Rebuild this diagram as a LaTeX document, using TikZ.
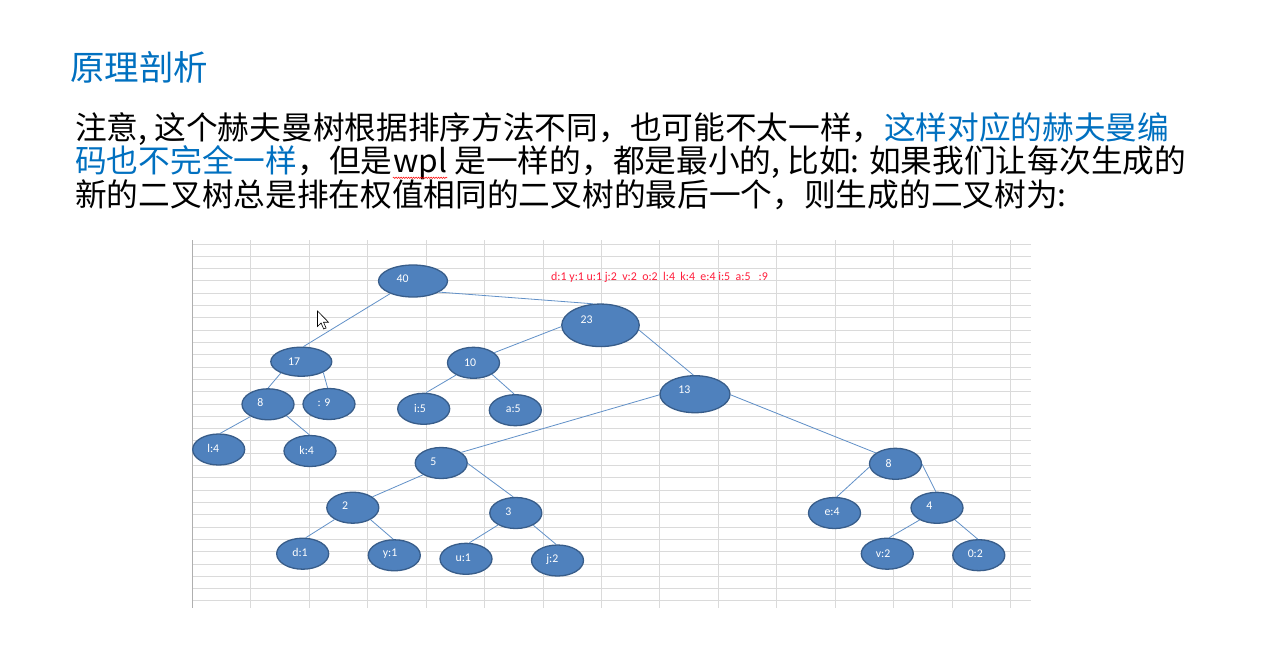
\documentclass[tikz,border=0pt]{standalone}
\usepackage{fontspec}
\setmainfont{Noto Sans CJK SC}
\newfontfamily\calfont{Carlito}
\usetikzlibrary{shapes.geometric,decorations.pathmorphing}
\definecolor{ttlblue}{RGB}{0,112,192}
\definecolor{nfill}{RGB}{79,129,189}
\definecolor{nborder}{RGB}{56,93,138}
\definecolor{edgec}{RGB}{98,145,200}
\definecolor{gridc}{RGB}{218,218,218}
\definecolor{axisc}{RGB}{175,175,175}
\definecolor{redt}{RGB}{255,30,60}
\begin{document}
\begin{tikzpicture}[x=1pt,y=-1pt,
  nd/.style={ellipse, draw=nborder, line width=1.3pt, fill=nfill, inner sep=0pt,
             minimum width=52pt, minimum height=31pt},
  lab/.style={text=white, font=\calfont\fontsize{11.8}{11.8}\selectfont, inner sep=0pt},
  edge/.style={draw=edgec, line width=0.8pt},
  gridline/.style={draw=gridc, line width=1pt},
  body/.style={anchor=base west, inner sep=0pt, font=\fontsize{31.7}{33}\selectfont},
  blue/.style={text=ttlblue}]
\useasboundingbox (0,0) rectangle (1267,659);
\fill[white] (0,0) rectangle (1267,659);
% grid
\foreach \j in {0,...,29} \draw[gridline] (192,{244+12.31*\j}) -- (1031,{244+12.31*\j});
\foreach \i in {1,...,14} \draw[gridline] ({192.3+58.45*\i},240) -- ({192.3+58.45*\i},608);
\draw[draw=axisc, line width=1.2pt] (192.3,240) -- (192.3,608);
% texts
\node[anchor=base west, inner sep=0pt, text=ttlblue, font=\fontsize{34.5}{34.5}\selectfont] (title) at (70,80) {原理剖析};
\node[body] (l1a) at (75,139.5) {注意, 这个赫夫曼树根据排序方法不同，也可能不太一样，};
\node[body, blue] (l1b) at (l1a.base east) {这样对应的赫夫曼编};
\node[body, blue] (l2a) at (75,172.8) {码也不完全一样};
\node[body] (l2b) at (l2a.base east) {，但是};
\node[body] (wpl) at (l2b.base east) {wpl};
\node[body] (l2c) at (wpl.base east) {\ 是一样的，都是最小的, 比如: 如果我们让每次生成的};
\node[body] (l3) at (75,206) {新的二叉树总是排在权值相同的二叉树的最后一个，则生成的二叉树为:};
\draw[red, line width=0.5pt, decorate, decoration={snake, amplitude=0.7pt, segment length=2.5pt}]
  ([yshift=-5pt]wpl.base west) -- ([yshift=-5pt]wpl.base east);
\node[anchor=west, inner sep=0pt, text=redt, font=\calfont\fontsize{11.9}{11.9}\selectfont] (freq) at (551,277)
  {d:1 y:1 u:1 j:2\ \ v:2\ \ o:2\ \ l:4\ \ k:4\ \ e:4 i:5\ \ a:5\ \ \ :9};
% nodes
\node[nd, minimum width=69pt, minimum height=32pt] (n40) at (413,281) {};
\node[nd, minimum width=77.5pt, minimum height=42.5pt] (n23) at (600.5,325.3) {};
\node[nd, minimum width=61pt, minimum height=29pt] (n17) at (301.3,361.7) {};
\node[nd] (n10) at (473.5,362.8) {};
\node[nd] (n8a) at (268,404.3) {};
\node[nd] (n9) at (329,404) {};
\node[nd] (ni5) at (423.7,408.8) {};
\node[nd] (na5) at (515.3,410.2) {};
\node[nd, minimum width=70pt, minimum height=37pt] (n13) at (695,394.2) {};
\node[nd] (nl4) at (218.7,449.5) {};
\node[nd] (nk4) at (310,451) {};
\node[nd] (n5) at (441.2,463) {};
\node[nd] (n2) at (352.8,507.7) {};
\node[nd] (n3) at (515.8,513) {};
\node[nd] (nd1) at (302.7,553.7) {};
\node[nd] (ny1) at (394.3,555.3) {};
\node[nd] (nu1) at (466,558.8) {};
\node[nd] (nj2) at (557.5,560.5) {};
\node[nd] (n8b) at (895.5,463.8) {};
\node[nd] (ne4) at (834.5,513) {};
\node[nd] (n4) at (937,507.8) {};
\node[nd] (nv2) at (887.3,553.7) {};
\node[nd] (no2) at (978.8,555.2) {};
% labels
\node[lab] (t40) at (402.7,278.3) {40};
\node[lab] (t23) at (586.7,320) {23};
\node[lab] (t17) at (294,361.7) {17};
\node[lab] (t10) at (470,362.3) {10};
\node[lab] (t8a) at (260.3,402.3) {8};
\node[lab] (t9) at (324,402.3) {: 9};
\node[lab] (ti5) at (420,408.3) {i:5};
\node[lab] (ta5) at (513.3,409) {a:5};
\node[lab] (t13) at (684.3,390) {13};
\node[lab] (tl4) at (213.3,448.3) {l:4};
\node[lab] (tk4) at (306.7,450) {k:4};
\node[lab] (t5) at (433.3,461.7) {5};
\node[lab] (t2) at (345,506) {2};
\node[lab] (t3) at (508.3,511.7) {3};
\node[lab] (td1) at (300,552.3) {d:1};
\node[lab] (ty1) at (390,554) {y:1};
\node[lab] (tu1) at (463.3,557.3) {u:1};
\node[lab] (tj2) at (552.3,559.3) {j:2};
\node[lab] (t8b) at (888.7,463.3) {8};
\node[lab] (te4) at (832,512) {e:4};
\node[lab] (t4) at (929.3,506) {4};
\node[lab] (tv2) at (883,553.3) {v:2};
\node[lab] (to2) at (975.3,554) {0:2};
% edges
\draw[edge] (n40.209) -- (n17.82);
\draw[edge] (n40.-23) -- (n23.109);
\draw[edge] (n23.182) -- (n10.26);
\draw[edge] (n23.-7) -- (n13.95);
\draw[edge] (n17.209) -- (n8a.90);
\draw[edge] (n17.-26) -- (n9.95);
\draw[edge] (n10.215) -- (ni5.82);
\draw[edge] (n10.-32) -- (na5.94);
\draw[edge] (n8a.215) -- (nl4.85);
\draw[edge] (n8a.-32) -- (nk4.92);
\draw[edge] (n13.181) -- (n5.28);
\draw[edge] (n13.-1) -- (n8b.151);
\draw[edge] (n5.213) -- (n2.29);
\draw[edge] (n5.-1) -- (n3.99);
\draw[edge] (n2.213) -- (nd1.79);
\draw[edge] (n2.-34) -- (ny1.94);
\draw[edge] (n3.214) -- (nu1.78);
\draw[edge] (n3.-35) -- (nj2.95);
\draw[edge] (n8b.187) -- (ne4.82);
\draw[edge] (n8b.-1) -- (n4.94);
\draw[edge] (n4.215) -- (nv2.83);
\draw[edge] (n4.-34) -- (no2.94);
% mouse cursor
\draw[black, fill=white, line width=0.6pt, line join=miter] (317.5,311) -- ++(0,15.5) -- ++(3.6,-3.5) -- ++(2.6,6) -- ++(2.4,-1) -- ++(-2.6,-5.8) -- ++(5,0) -- cycle;
\end{tikzpicture}
\end{document}
